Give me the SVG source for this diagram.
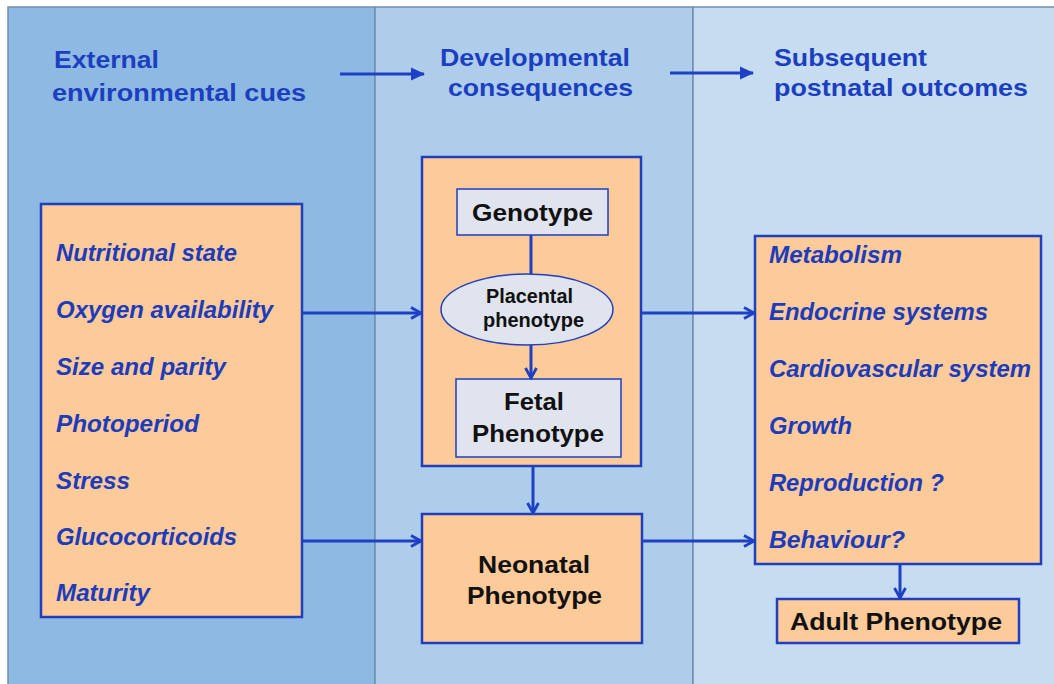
<svg xmlns="http://www.w3.org/2000/svg" width="1054" height="684" viewBox="0 0 1054 684">
<defs>
<style>
.hdr{font-family:"Liberation Sans",Arial,sans-serif;font-weight:bold;font-size:24px;fill:#1c3fc0}
.item{font-family:"Liberation Sans",Arial,sans-serif;font-weight:bold;font-style:italic;font-size:23px;fill:#1c3cba}
.lbl{font-family:"Liberation Sans",Arial,sans-serif;font-weight:bold;fill:#111}
.box{fill:#fdca9a;stroke:#1f3fbf;stroke-width:2.5}
.inner{fill:#dfe4ee;stroke:#1f3fbf;stroke-width:1.5}
.conn{stroke:#1e40c4;stroke-width:3;fill:none}
</style>
<marker id="chev" viewBox="0 0 14 14" refX="12" refY="7" markerWidth="14" markerHeight="14" markerUnits="userSpaceOnUse" orient="auto">
<path d="M2,1.5 L12,7 L2,12.5" fill="none" stroke="#1e40c4" stroke-width="2.8"/>
</marker>
<marker id="tri" viewBox="0 0 14 14" refX="13" refY="7" markerWidth="14" markerHeight="14" markerUnits="userSpaceOnUse" orient="auto">
<path d="M0,0.5 L14,7 L0,13.5 Z" fill="#1e40c4"/>
</marker>
</defs>
<rect x="0" y="0" width="1054" height="684" fill="#ffffff"/>
<g id="panels">
<rect x="8" y="7" width="367" height="678" fill="#8db9e2" stroke="#6f8fb0" stroke-width="1.5"/>
<rect x="375" y="7" width="318" height="678" fill="#aecdeb" stroke="#6f8fb0" stroke-width="1.5"/>
<rect x="693" y="7" width="362" height="678" fill="#c6dcf1" stroke="#6f8fb0" stroke-width="1.5"/>
</g>
<g id="headers">
<text class="hdr" x="54" y="68" textLength="105" lengthAdjust="spacingAndGlyphs">External</text>
<text class="hdr" x="52" y="101" textLength="254" lengthAdjust="spacingAndGlyphs">environmental cues</text>
<text class="hdr" x="440" y="66" textLength="190" lengthAdjust="spacingAndGlyphs">Developmental</text>
<text class="hdr" x="448" y="96" textLength="185" lengthAdjust="spacingAndGlyphs">consequences</text>
<text class="hdr" x="774" y="66" textLength="153" lengthAdjust="spacingAndGlyphs">Subsequent</text>
<text class="hdr" x="774" y="96" textLength="254" lengthAdjust="spacingAndGlyphs">postnatal outcomes</text>
</g>
<g id="cues">
<rect class="box" x="41" y="204" width="261" height="413"/>
<text class="item" x="56" y="261" textLength="181" lengthAdjust="spacingAndGlyphs">Nutritional state</text>
<text class="item" x="56" y="318" textLength="217" lengthAdjust="spacingAndGlyphs">Oxygen availability</text>
<text class="item" x="56" y="375" textLength="170" lengthAdjust="spacingAndGlyphs">Size and parity</text>
<text class="item" x="56" y="432" textLength="143" lengthAdjust="spacingAndGlyphs">Photoperiod</text>
<text class="item" x="56" y="489" textLength="74" lengthAdjust="spacingAndGlyphs">Stress</text>
<text class="item" x="56" y="545" textLength="181" lengthAdjust="spacingAndGlyphs">Glucocorticoids</text>
<text class="item" x="56" y="601" textLength="94" lengthAdjust="spacingAndGlyphs">Maturity</text>
</g>
<g id="fetal-group">
<rect class="box" x="422" y="157" width="219" height="309"/>
</g>
<g id="genotype">
<rect class="inner" x="457" y="189" width="151" height="46"/>
<text class="lbl" x="472" y="221" font-size="24" textLength="121" lengthAdjust="spacingAndGlyphs">Genotype</text>
</g>
<g id="placental">
<ellipse cx="527" cy="309.5" rx="86" ry="35.5" fill="#dfe4ee" stroke="#1f3fbf" stroke-width="1.5"/>
<text class="lbl" x="486" y="303" font-size="20" textLength="87" lengthAdjust="spacingAndGlyphs">Placental</text>
<text class="lbl" x="483" y="327" font-size="20" textLength="101" lengthAdjust="spacingAndGlyphs">phenotype</text>
</g>
<g id="fetal">
<rect class="inner" x="456" y="379" width="165" height="78"/>
<text class="lbl" x="504" y="410" font-size="24" textLength="60" lengthAdjust="spacingAndGlyphs">Fetal</text>
<text class="lbl" x="472" y="442" font-size="24" textLength="132" lengthAdjust="spacingAndGlyphs">Phenotype</text>
</g>
<g id="neonatal">
<rect class="box" x="422" y="514" width="220" height="129"/>
<text class="lbl" x="478" y="573" font-size="24" textLength="112" lengthAdjust="spacingAndGlyphs">Neonatal</text>
<text class="lbl" x="467" y="604" font-size="24" textLength="135" lengthAdjust="spacingAndGlyphs">Phenotype</text>
</g>
<g id="outcomes">
<rect class="box" x="755" y="236" width="286" height="328"/>
<text class="item" x="769" y="263" textLength="133" lengthAdjust="spacingAndGlyphs">Metabolism</text>
<text class="item" x="769" y="320" textLength="219" lengthAdjust="spacingAndGlyphs">Endocrine systems</text>
<text class="item" x="769" y="377" textLength="262" lengthAdjust="spacingAndGlyphs">Cardiovascular system</text>
<text class="item" x="769" y="434" textLength="83" lengthAdjust="spacingAndGlyphs">Growth</text>
<text class="item" x="769" y="491" textLength="175" lengthAdjust="spacingAndGlyphs">Reproduction ?</text>
<text class="item" x="769" y="548" textLength="136" lengthAdjust="spacingAndGlyphs">Behaviour?</text>
</g>
<g id="adult">
<rect class="box" x="777" y="599" width="242" height="44"/>
<text class="lbl" x="790" y="630" font-size="24" textLength="212" lengthAdjust="spacingAndGlyphs">Adult Phenotype</text>
</g>
<g id="connectors">
<line class="conn" x1="340" y1="74" x2="424" y2="74" stroke-width="3.5" marker-end="url(#tri)"/>
<line class="conn" x1="670" y1="73" x2="753" y2="73" stroke-width="3.5" marker-end="url(#tri)"/>
<line class="conn" x1="302" y1="313" x2="421" y2="313" marker-end="url(#chev)"/>
<line class="conn" x1="302" y1="541" x2="421" y2="541" marker-end="url(#chev)"/>
<line class="conn" x1="641" y1="313" x2="754" y2="313" marker-end="url(#chev)"/>
<line class="conn" x1="642" y1="541" x2="754" y2="541" marker-end="url(#chev)"/>
<line class="conn" x1="531" y1="235" x2="531" y2="274"/>
<line class="conn" x1="531" y1="345" x2="531" y2="378" marker-end="url(#chev)"/>
<line class="conn" x1="533" y1="466" x2="533" y2="513" marker-end="url(#chev)"/>
<line class="conn" x1="900" y1="564" x2="900" y2="598" marker-end="url(#chev)"/>
</g>
</svg>
